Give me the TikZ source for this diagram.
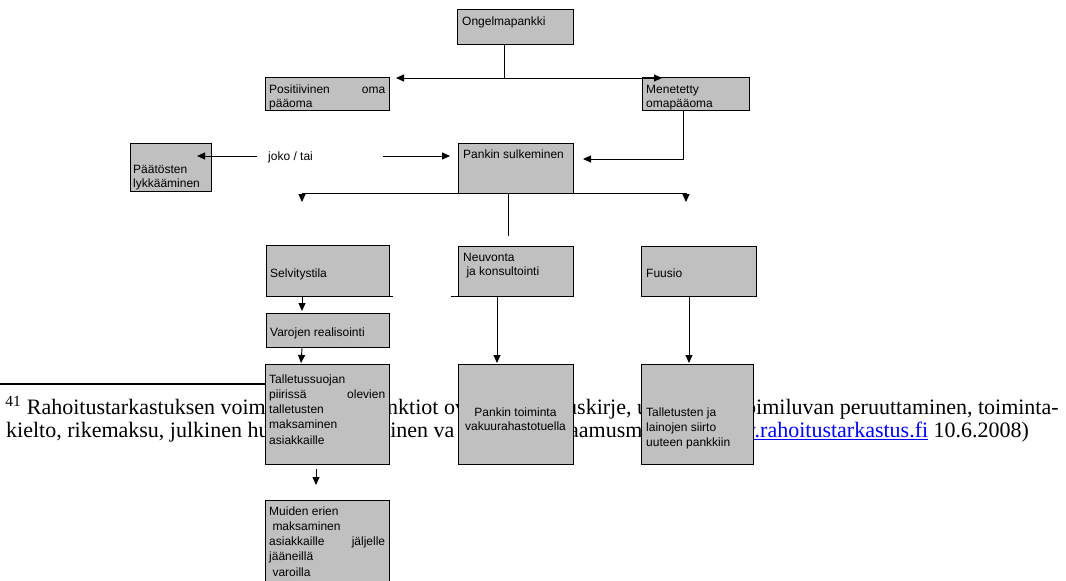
\documentclass[tikz,border=0pt]{standalone}
\usepackage{fontspec}
\setmainfont{Liberation Serif}
\newfontfamily\arialf{Liberation Sans}
\usetikzlibrary{arrows.meta}
\definecolor{boxgray}{HTML}{C0C0C0}
\definecolor{linkblue}{HTML}{0000FF}
\begin{document}
\begin{tikzpicture}[x=1pt,y=-1pt,
  box/.style={draw=black, line width=1pt, fill=boxgray, inner sep=0pt, anchor=north west},
  lbl/.style={inner sep=0pt, anchor=base west, font=\arialf\fontsize{12}{14.5}\selectfont},
  tall/.style={lbl, font=\arialf\fontsize{12}{15.3}\selectfont},
  conn/.style={draw=black, line width=0.9pt},
  tip/.style={-{Triangle[length=8pt,width=7pt]}},
  arr/.style={conn, tip},
  fn/.style={inner sep=0pt, font=\fontsize{22}{24}\selectfont}]
\useasboundingbox (0,0) rectangle (1066,581);
\fill[white] (0,0) rectangle (1066,581);

% footnote (partly covered by the boxes)
\draw[line width=1.5pt] (0,384) -- (265,384);
\node[fn, anchor=base east] (f1) at (266,414) {\textsuperscript{41} Rahoitustarkastuksen voim};
\node[fn, anchor=base west] (f2) at (387,414) {nktiot ov};
\node[fn, anchor=base west] (f3) at (566,414) {uskirje, u};
\node[fn, anchor=base west] (f4) at (745,414) {oimiluvan peruuttaminen, toiminta-};
\node[fn, anchor=base west] (f5) at (6,437) {kielto, rikemaksu, julkinen hu};
\node[fn, anchor=base west] (f6) at (384,437) {tinen va};
\node[fn, anchor=base west] (f7) at (569,437) {aamusm};
\node[fn, anchor=base west] (f8) at (740,437) {\textcolor{linkblue}{\underline{w.rahoitustarkastus.fi}} 10.6.2008)};

% boxes
\node[box, minimum width=116pt, minimum height=35pt] (ong) at (457,9) {};
\node[box, minimum width=124pt, minimum height=33pt] (pos) at (265,77) {};
\node[box, minimum width=107pt, minimum height=33pt] (men) at (642,77) {};
\node[box, minimum width=81pt, minimum height=48pt] (paat) at (130,143) {};
\node[box, minimum width=115pt, minimum height=50pt] (psulk) at (458,143) {};
\node[box, minimum width=123pt, minimum height=51pt] (selv) at (266,245) {};
\node[box, minimum width=115pt, minimum height=50pt] (neuv) at (458,246) {};
\node[box, minimum width=115pt, minimum height=50pt] (fuus) at (641,246) {};
\node[box, minimum width=123pt, minimum height=34pt] (var) at (266,313) {};
\node[box, minimum width=124pt, minimum height=100pt] (tall) at (265,364) {};
\node[box, minimum width=115pt, minimum height=100pt] (ptoim) at (458,364) {};
\node[box, minimum width=112pt, minimum height=100pt] (siir) at (641,364) {};
\node[box, minimum width=124pt, minimum height=90pt] (muid) at (265,500) {};
\draw[line width=1pt] (266,296) -- (393,296);
\draw[line width=1pt] (451,296) -- (573,296);

% box texts
\node[lbl] (tong) at (462,25) {Ongelmapankki};
\node[lbl] (tpos) at (269,93) {\parbox[t]{116pt}{Positiivinen\hfill oma\\pääoma}};
\node[lbl] (tmen) at (646,93) {\parbox[t]{100pt}{Menetetty\\omapääoma}};
\node[lbl] (tpaat) at (133,173) {\parbox[t]{76pt}{Päätösten\\lykkääminen}};
\node[lbl] (tpsulk) at (463,158) {Pankin sulkeminen};
\node[lbl] (tselv) at (270,277) {Selvitystila};
\node[lbl] (tneuv) at (463,261) {\parbox[t]{108pt}{Neuvonta\\\hspace*{3.3pt}ja konsultointi}};
\node[lbl] (tfuus) at (646,277) {Fuusio};
\node[lbl] (tvar) at (270,336) {Varojen realisointi};
\node[tall] (ttall) at (269,383) {\parbox[t]{116pt}{Talletussuojan\\piirissä\hfill olevien\\talletusten\\maksaminen\\asiakkaille}};
\node[lbl, anchor=base] (tptoim) at (515.5,416) {\parbox[t]{113pt}{\centering Pankin toiminta\\vakuurahastotuella}};
\node[tall] (tsiir) at (646,416) {\parbox[t]{104pt}{Talletusten ja\\lainojen siirto\\uuteen pankkiin}};
\node[tall] (tmuid) at (269,515) {\parbox[t]{116pt}{Muiden erien\\\hspace*{3.3pt}maksaminen\\asiakkaille\hfill jäljelle\\jääneillä\\\hspace*{3.3pt}varoilla}};
\node[lbl] (joko) at (268,160) {joko / tai};

% connector end points
\coordinate (hl) at (396,78);
\coordinate (hr) at (662,78);
\coordinate (menturn) at (583,159);
\coordinate (jl) at (257,156);
\coordinate (paatin) at (197,156);
\coordinate (jr) at (383,156);
\coordinate (psin) at (450,156);
\coordinate (sl) at (302,193);
\coordinate (sr) at (686,193);
\coordinate (mid) at (508,236);

% connectors
\draw[conn] ([xshift=47pt]ong.south west) -- ([xshift=47pt]ong.south west |- hl);
\draw[conn, {Triangle[length=8pt,width=7pt]}-{Triangle[length=8pt,width=7pt]}] (hl) -- (hr);
\draw[arr] ([xshift=41pt]men.south west) |- (menturn);
\draw[arr] (jl) -- (paatin);
\draw[arr] (jr) -- (psin);
\draw[conn] (sl) -- (sr);
\draw[arr] (sl) -- ++(0,9);
\draw[arr] (sr) -- ++(0,9);
\draw[conn] (sl -| mid) -- (mid);
\draw[arr] ([xshift=36pt]selv.south west) -- ([xshift=36pt,yshift=2pt]var.north west);
\draw[arr] ([xshift=36pt]var.south west) -- ([xshift=36pt,yshift=1pt]tall.north west);
\draw[arr] ([xshift=39pt]neuv.south west) -- ([xshift=39pt,yshift=1pt]ptoim.north west);
\draw[arr] ([xshift=48pt]fuus.south west) -- ([xshift=48pt,yshift=1pt]siir.north west);
\draw[arr] ([xshift=51pt,yshift=-4pt]tall.south west) -- ([xshift=51pt,yshift=-20pt]tall.south west);
\end{tikzpicture}
\end{document}
